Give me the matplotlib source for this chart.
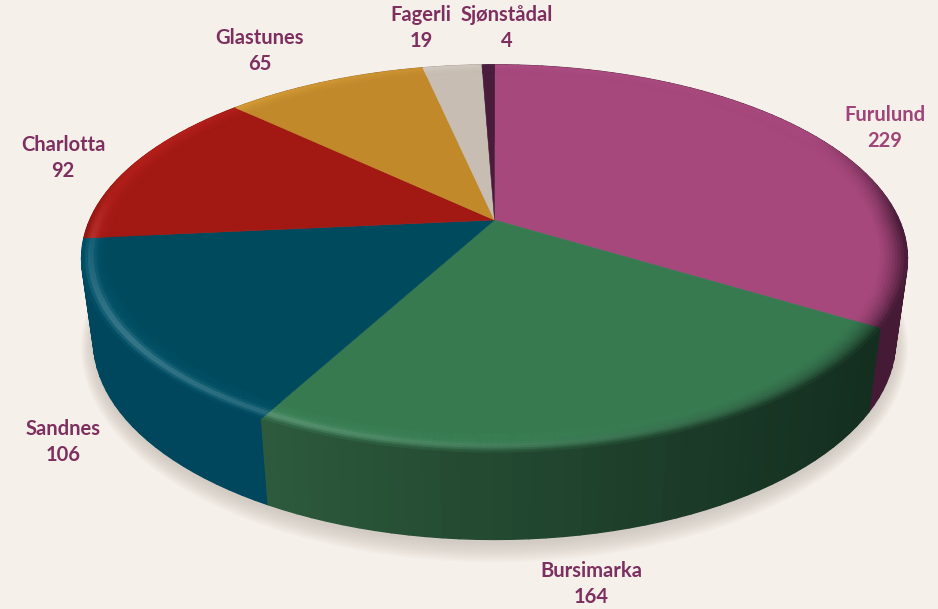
import matplotlib
matplotlib.use("Agg")
import matplotlib.pyplot as plt
from matplotlib.collections import PolyCollection
from matplotlib.colors import to_rgb
import numpy as np

plt.rcParams['font.family'] = ['Lato', 'DejaVu Sans']

# data
names = ["Furulund", "Bursimarka", "Sandnes", "Charlotta", "Glastunes", "Fagerli", "Sjønstådal"]
values = [229, 164, 106, 92, 65, 19, 4]

# colours
top_colors = ["#A7487C", "#377A50", "#004A5E", "#A21812", "#C2892B", "#C7BDB2", "#4A1C3C"]
side_left = ["#441A35", "#2D5A3C", "#00465C", "#7A120D", "#8F6520", "#958D85", "#38152D"]
side_right = ["#441A35", "#142F20", "#003545", "#7A120D", "#8F6520", "#958D85", "#38152D"]
label_colors = ["#A0457A", "#7D3060", "#7D3060", "#7D3060", "#7D3060", "#7D3060", "#7D3060"]
label_pos = [(885, 128), (591, 584), (63, 442), (63, 158), (260, 51), (421, 28), (507, 28)]
bg = "#F6F0EA"

# perspective of the disc, in pixels
CX = 494.5
K = 0.199
TOP = dict(a=404.7, b=186.0, y0=220.0)
BOTTOM = dict(a=393.0, b=191.0, y0=301.0)


def project(theta, r, a, b, y0):
    u = r * np.sin(theta)
    v = r * np.cos(theta)
    w = 1 + K * v
    return CX + a * u / w, y0 - b * v / w


def mix(c1, c2, t):
    return tuple(np.array(c1) * (1 - t) + np.array(c2) * t)


fig = plt.figure(figsize=(9.38, 6.09), dpi=100, facecolor=bg)
ax = fig.add_axes([0, 0, 1, 1])
ax.set_xlim(0, 938)
ax.set_ylim(609, 0)
ax.axis("off")

edges = np.deg2rad(np.concatenate([[0], np.cumsum(values)]) / np.sum(values) * 360)

# soft shadow under the disc
circle = np.linspace(0, 2 * np.pi, 361)
for grow in np.linspace(15, 0, 14):
    sx, sy = project(circle, 1, BOTTOM["a"] + grow * 0.8, BOTTOM["b"] + grow, BOTTOM["y0"] + 4)
    ax.fill(sx, sy, color="#BDB6AF", alpha=0.055, lw=0, zorder=1)

# side wall, wide strips so the shading shows soft bands
polys, cols, depth = [], [], []
for i in range(len(values)):
    n = max(int(np.degrees(edges[i + 1] - edges[i]) / 2.0), 2)
    th = np.linspace(edges[i], edges[i + 1], n + 1)
    for t0, t1 in zip(th[:-1], th[1:]):
        x0, y0 = project(t0, 1, **TOP)
        x1, y1 = project(t1, 1, **TOP)
        x2, y2 = project(t1, 1, **BOTTOM)
        x3, y3 = project(t0, 1, **BOTTOM)
        polys.append([(x0, y0), (x1, y1), (x2, y2), (x3, y3)])
        s = np.clip((x0 - 270) / (870 - 270), 0, 1)
        cols.append(mix(to_rgb(side_left[i]), to_rgb(side_right[i]), s))
        depth.append(-np.cos(t0))
order = np.argsort(depth)
ax.add_collection(PolyCollection([polys[j] for j in order], facecolors=[cols[j] for j in order],
                                 edgecolors=[cols[j] for j in order], linewidths=1.0, zorder=2))

# flat top face
R_IN = 0.93
for i in range(len(values)):
    th = np.linspace(edges[i], edges[i + 1], max(int(np.degrees(edges[i + 1] - edges[i])), 2) + 1)
    fx, fy = project(th, R_IN + 0.005, **TOP)
    cx, cy = project(0.0, 0.0, **TOP)
    ax.fill(np.r_[cx, fx], np.r_[cy, fy], color=top_colors[i], lw=0.4, zorder=3)

# bevelled rim: highlight at the front left, dark towards the right
radii = np.linspace(R_IN, 1.0, 11)
polys, cols = [], []
for i in range(len(values)):
    n = max(int(np.degrees(edges[i + 1] - edges[i]) / 0.7), 2)
    th = np.linspace(edges[i], edges[i + 1], n + 1)
    base = to_rgb(top_colors[i])
    for t0, t1 in zip(th[:-1], th[1:]):
        tm = (t0 + t1) / 2
        v = np.cos(tm)
        left = (1 - np.sin(tm)) / 2
        fade = np.clip((0.5 - v) / 0.5, 0, 1) * (1 - 0.6 * np.clip(v + 0.3, 0, 1) * left)
        front = np.clip(0.2 - v * 1.4, 0, 1)
        back = 1 - 0.6 * np.clip(v, 0, 1)
        sm = np.clip((project(tm, 1, **TOP)[0] - 270) / 600, 0, 1)
        side = mix(to_rgb(side_left[i]), to_rgb(side_right[i]), sm)
        for r0, r1 in zip(radii[:-1], radii[1:]):
            t = ((r0 + r1) / 2 - R_IN) / (1 - R_IN)
            lift = 0.22 * left * t ** 2 * back
            c = np.clip(np.array(base) * (1 + lift) + np.array([0, 0.02, 0.03]) * left * t, 0, 1)
            glow = np.exp(-((t - 0.72) / 0.16) ** 2) * 0.3 * left ** 1.5 * front
            c = mix(c, (1, 1, 1), glow)
            dark = fade * (t ** (1.5 + 4.5 * left + 2.5 * max(v, 0)))
            c = mix(c, side, dark)
            a = project(t0, r0, **TOP)
            b = project(t1, r0, **TOP)
            d = project(t1, r1, **TOP)
            e = project(t0, r1, **TOP)
            polys.append([a, b, d, e])
            cols.append(c)
ax.add_collection(PolyCollection(polys, facecolors=cols, edgecolors=cols, linewidths=0.5, zorder=4))

# labels
for name, val, pos, col in zip(names, values, label_pos, label_colors):
    ax.text(pos[0], pos[1], f"{name}\n{val}", ha="center", va="center", color=col,
            fontsize=14.5, fontweight="bold", linespacing=1.4, zorder=5)

fig.savefig("out.png", dpi=100, facecolor=bg)
